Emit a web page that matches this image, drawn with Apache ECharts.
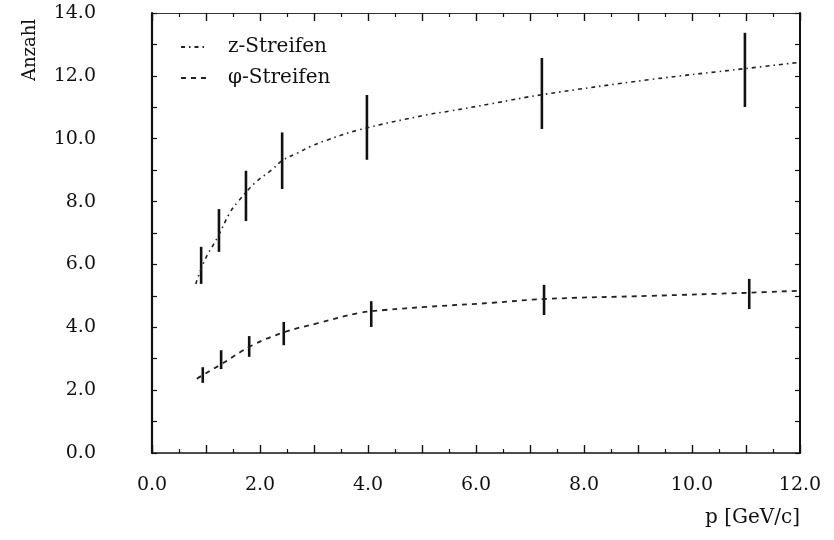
<!DOCTYPE html>
<html>
<head>
<meta charset="utf-8">
<script src="https://cdn.jsdelivr.net/npm/echarts@6/dist/echarts.min.js"></script>
<style>html,body{margin:0;padding:0;background:#fff;}#c{width:834px;height:540px;}</style>
</head>
<body>
<div id="c"></div>
<script>
// z-Streifen measurements
const zX   = [0.91, 1.24, 1.74, 2.41, 3.98, 7.22, 10.98];
const zY   = [5.97, 7.08, 8.18, 9.30, 10.36, 11.44, 12.19];
const zErr = [0.59, 0.68, 0.80, 0.90, 1.03, 1.13, 1.18];
// phi-Streifen measurements
const phiX   = [0.94, 1.28, 1.80, 2.44, 4.06, 7.26, 11.06];
const phiY   = [2.48, 2.97, 3.39, 3.80, 4.42, 4.87, 5.06];
const phiErr = [0.25, 0.30, 0.33, 0.37, 0.41, 0.48, 0.48];
// fitted curves
const zFitX = [0.81, 0.98, 1.22, 1.44, 1.59, 1.91, 2.22, 2.41, 2.70, 2.93, 3.20, 3.85, 5.09, 5.52, 6.31, 7.22, 9.22, 10.98, 11.94];
const zFitY = [5.38, 6.15, 6.88, 7.64, 7.99, 8.60, 9.01, 9.30, 9.55, 9.75, 9.93, 10.29, 10.76, 10.88, 11.12, 11.40, 11.88, 12.23, 12.42];
const phiFitX = [0.83, 0.94, 1.26, 1.85, 2.46, 3.07, 3.85, 4.31, 5.09, 6.31, 7.26, 9.22, 11.06, 11.94];
const phiFitY = [2.36, 2.48, 2.80, 3.42, 3.85, 4.13, 4.46, 4.55, 4.65, 4.78, 4.90, 5.00, 5.10, 5.16];
// axes
const xMin = 0, xMax = 12, yMin = 0, yMax = 14;
const seriesNames = ['z-Streifen', 'φ-Streifen'];

const FONT = 'DejaVu Serif';
const INK = '#111';

function errData(xs, ys, es) {
  return xs.map((x, i) => [x, ys[i] - es[i], ys[i] + es[i]]);
}
function lineData(xs, ys) {
  return xs.map((x, i) => [x, ys[i]]);
}
function errRender(params, api) {
  const x = api.value(0), lo = api.value(1), hi = api.value(2);
  const p1 = api.coord([x, lo]);
  const p2 = api.coord([x, hi]);
  return {
    type: 'line',
    shape: { x1: p1[0], y1: p1[1], x2: p2[0], y2: p2[1] },
    style: { stroke: INK, lineWidth: 2.6 }
  };
}
const evenLabel = v => (Math.abs(v % 2) < 1e-9 ? v.toFixed(1) : '');

const chart = echarts.init(document.getElementById('c'), null, { renderer: 'canvas' });
chart.setOption({
  animation: false,
  backgroundColor: '#fff',
  grid: { left: 152, right: 34, top: 13, bottom: 87, show: false },
  legend: {
    data: seriesNames,
    orient: 'vertical',
    left: 175, top: 32,
    itemWidth: 26, itemHeight: 14, itemGap: 11,
    itemStyle: { opacity: 0 },
    textStyle: { fontFamily: FONT, fontSize: 20, color: INK, padding: [0, 0, 0, 16] }
  },
  graphic: [{
    type: 'text',
    x: 30, y: 50,
    rotation: Math.PI / 2,
    style: { text: 'Anzahl', font: '18px "DejaVu Serif"', fill: INK, align: 'center', verticalAlign: 'middle' }
  }],
  xAxis: [{
    type: 'value', position: 'bottom', min: xMin, max: xMax, interval: 1,
    name: 'p [GeV/c]', nameLocation: 'end', nameGap: 0,
    nameTextStyle: { fontFamily: FONT, fontSize: 20, color: INK, align: 'right', verticalAlign: 'top', padding: [55, 0, 0, 0] },
    axisLine: { show: true, onZero: false, lineStyle: { color: INK, width: 1.6 } },
    axisTick: { show: true, inside: true, length: 8, lineStyle: { color: INK, width: 1.4 } },
    minorTick: { show: true, splitNumber: 2, length: 4, lineStyle: { color: INK, width: 1.2 } },
    axisLabel: { formatter: evenLabel, margin: 23, fontFamily: FONT, fontSize: 19, color: INK, showMinLabel: true, showMaxLabel: true },
    splitLine: { show: false }
  }, {
    type: 'value', position: 'top', min: xMin, max: xMax, interval: 1,
    axisLine: { show: true, onZero: false, lineStyle: { color: '#333', width: 1.2 } },
    axisTick: { show: true, inside: true, length: 8, lineStyle: { color: INK, width: 1.4 } },
    minorTick: { show: true, splitNumber: 2, length: 4, lineStyle: { color: INK, width: 1.2 } },
    axisLabel: { show: false },
    splitLine: { show: false }
  }],
  yAxis: [{
    type: 'value', position: 'left', min: yMin, max: yMax, interval: 1,
    axisLine: { show: true, onZero: false, lineStyle: { color: INK, width: 2.2 } },
    axisTick: { show: true, inside: true, length: 5, lineStyle: { color: INK, width: 1.2 } },
    axisLabel: { formatter: evenLabel, margin: 56, fontFamily: FONT, fontSize: 19, color: INK, padding: [6, 0, 0, 0], showMinLabel: true, showMaxLabel: true },
    splitLine: { show: false }
  }, {
    type: 'value', position: 'right', min: yMin, max: yMax, interval: 1,
    axisLine: { show: true, onZero: false, lineStyle: { color: INK, width: 2 } },
    axisTick: { show: true, inside: true, length: 5, lineStyle: { color: INK, width: 1.2 } },
    axisLabel: { show: false },
    splitLine: { show: false }
  }],
  series: [{
    name: seriesNames[0], type: 'line', smooth: 0.4, symbol: 'none',
    data: lineData(zFitX, zFitY),
    lineStyle: { color: '#222', width: 1.6, type: [4, 4, 1.5, 4] },
    itemStyle: { color: '#222' }
  }, {
    name: seriesNames[1], type: 'line', smooth: 0.4, symbol: 'none',
    data: lineData(phiFitX, phiFitY),
    lineStyle: { color: '#222', width: 1.8, type: [5, 5] },
    itemStyle: { color: '#222' }
  }, {
    name: 'z-Streifen Fehler', type: 'custom', renderItem: errRender,
    encode: { x: 0, y: [1, 2] },
    data: errData(zX, zY, zErr), z: 3
  }, {
    name: 'φ-Streifen Fehler', type: 'custom', renderItem: errRender,
    encode: { x: 0, y: [1, 2] },
    data: errData(phiX, phiY, phiErr), z: 3
  }]
});
</script>
</body>
</html>
